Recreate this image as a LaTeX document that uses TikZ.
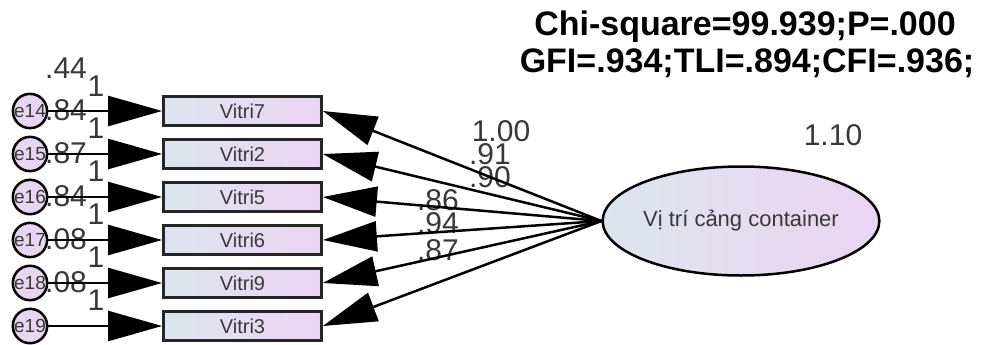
\documentclass[tikz,border=0pt]{standalone}
\usepackage{fontspec}
\setmainfont{Liberation Sans}
\usepackage{xcolor}
\usetikzlibrary{arrows.meta, shapes.geometric}

\definecolor{fillL}{HTML}{DDE5EE}
\definecolor{fillR}{HTML}{EBD4F2}
\definecolor{errfill}{HTML}{E7D6EF}
\definecolor{labgray}{HTML}{383838}

\begin{document}
\begin{tikzpicture}[x=1pt, y=-1pt,
  obs/.style={draw=black!85, line width=2.8pt, left color=fillL, right color=fillR,
              minimum width=158pt, minimum height=29pt, inner sep=0pt,
              text=labgray, font=\fontsize{20}{20}\selectfont},
  err/.style={circle, draw=black, line width=2.5pt, fill=errfill,
              minimum size=33pt, inner sep=0pt, text=labgray,
              font=\fontsize{19}{19}\selectfont},
  lat/.style={ellipse, draw=black, line width=2.5pt, left color=fillL, right color=fillR,
              minimum width=275pt, minimum height=109pt, inner sep=0pt,
              text=labgray, font=\fontsize{22}{22}\selectfont},
  arr/.style={-{Triangle[length=54pt, width=30pt]}, line width=2.5pt},
  num/.style={inner sep=0pt, text=labgray, font=\fontsize{30}{30}\selectfont},
  fit/.style={inner sep=0pt, font=\fontsize{34}{34}\selectfont\bfseries},
]
\useasboundingbox (0,0) rectangle (982,345);

% fit indices
\node[fit] (chi) at (745,27) {Chi-square=99.939;P=.000};
\node[fit] (gfi) at (747,63) {GFI=.934;TLI=.894;CFI=.936;};

% error variances and fixed weights
\node[num, anchor=west] (v14) at (45,68)  {.44};
\node[num, anchor=west] (v15) at (45,110) {.84};
\node[num, anchor=west] (v16) at (45,153) {.87};
\node[num, anchor=west] (v17) at (45,196) {.84};
\node[num, anchor=west] (v18) at (45,239) {.08};
\node[num, anchor=west] (v19) at (45,282) {.08};
\node[num] (w14) at (96,86)  {1};
\node[num] (w15) at (96,128) {1};
\node[num] (w16) at (96,171) {1};
\node[num] (w17) at (96,214) {1};
\node[num] (w18) at (96,257) {1};
\node[num] (w19) at (96,300) {1};

% loadings and latent variance
\node[num] (l7) at (501,131) {1.00};
\node[num] (l2) at (490,154) {.91};
\node[num] (l5) at (490,177) {.90};
\node[num] (l6) at (438,200) {.86};
\node[num] (l9) at (438,223) {.94};
\node[num] (l3) at (438,250) {.87};
\node[num] (lv) at (833,135) {1.10};

% indicators
\node[obs] (vitri7) at (242.5,111) {Vitri7};
\node[obs] (vitri2) at (242.5,154) {Vitri2};
\node[obs] (vitri5) at (242.5,197) {Vitri5};
\node[obs] (vitri6) at (242.5,240) {Vitri6};
\node[obs] (vitri9) at (242.5,283) {Vitri9};
\node[obs] (vitri3) at (242.5,326) {Vitri3};

% errors
\node[err] (e14) at (30,111) {e14};
\node[err] (e15) at (30,154) {e15};
\node[err] (e16) at (30,197) {e16};
\node[err] (e17) at (30,240) {e17};
\node[err] (e18) at (30,283) {e18};
\node[err] (e19) at (30,326) {e19};

\node[lat] (vitri) at (741,221) {Vị trí cảng container};

\draw[arr] (e14) -- (vitri7);
\draw[arr] (e15) -- (vitri2);
\draw[arr] (e16) -- (vitri5);
\draw[arr] (e17) -- (vitri6);
\draw[arr] (e18) -- (vitri9);
\draw[arr] (e19) -- (vitri3);

\draw[arr] (vitri.west) -- (vitri7.east);
\draw[arr] (vitri.west) -- (vitri2.east);
\draw[arr] (vitri.west) -- (vitri5.east);
\draw[arr] (vitri.west) -- (vitri6.east);
\draw[arr] (vitri.west) -- (vitri9.east);
\draw[arr] (vitri.west) -- (vitri3.east);
\end{tikzpicture}
\end{document}
